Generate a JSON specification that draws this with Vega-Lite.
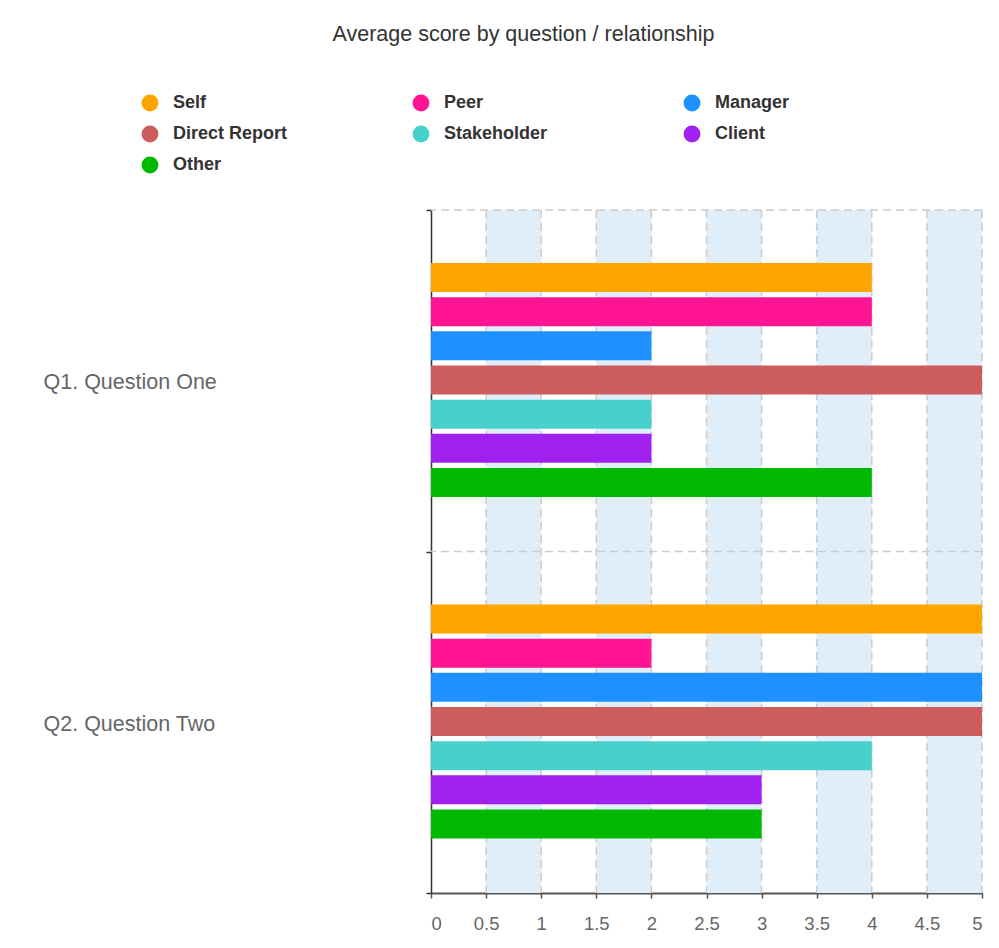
{
  "$schema": "https://vega.github.io/schema/vega-lite/v6.json",
  "width": 551,
  "height": 683,
  "autosize": {"type": "none"},
  "padding": {"left": 431, "top": 210, "right": 17, "bottom": 55},
  "background": "#ffffff",
  "config": {
    "font": "Liberation Sans",
    "view": {"stroke": null}
  },
  "title": {
    "text": "Average score by question / relationship",
    "font": "Liberation Sans",
    "fontSize": 21.5,
    "fontWeight": "normal",
    "color": "#333333",
    "anchor": "middle",
    "frame": "group",
    "dx": -183,
    "offset": 49
  },
  "datasets": {
    "scores": [
      {"question": "Q1. Question One", "relationship": "Self", "score": 4},
      {"question": "Q1. Question One", "relationship": "Peer", "score": 4},
      {"question": "Q1. Question One", "relationship": "Manager", "score": 2},
      {"question": "Q1. Question One", "relationship": "Direct Report", "score": 5},
      {"question": "Q1. Question One", "relationship": "Stakeholder", "score": 2},
      {"question": "Q1. Question One", "relationship": "Client", "score": 2},
      {"question": "Q1. Question One", "relationship": "Other", "score": 4},
      {"question": "Q2. Question Two", "relationship": "Self", "score": 5},
      {"question": "Q2. Question Two", "relationship": "Peer", "score": 2},
      {"question": "Q2. Question Two", "relationship": "Manager", "score": 5},
      {"question": "Q2. Question Two", "relationship": "Direct Report", "score": 5},
      {"question": "Q2. Question Two", "relationship": "Stakeholder", "score": 4},
      {"question": "Q2. Question Two", "relationship": "Client", "score": 3},
      {"question": "Q2. Question Two", "relationship": "Other", "score": 3}
    ],
    "stripes": [
      {"from": 0.5, "to": 1},
      {"from": 1.5, "to": 2},
      {"from": 2.5, "to": 3},
      {"from": 3.5, "to": 4},
      {"from": 4.5, "to": 5}
    ],
    "xgrid": [
      {"value": 0.5}, {"value": 1}, {"value": 1.5}, {"value": 2}, {"value": 2.5},
      {"value": 3}, {"value": 3.5}, {"value": 4}, {"value": 4.5}, {"value": 5}
    ],
    "ygrid": [
      {"question": "Q1. Question One"},
      {"question": "Q2. Question Two"}
    ]
  },
  "layer": [
    {
      "data": {"name": "stripes"},
      "mark": {"type": "rect", "color": "#dfeef8"},
      "encoding": {
        "x": {"field": "from", "type": "quantitative"},
        "x2": {"field": "to"}
      }
    },
    {
      "data": {"name": "xgrid"},
      "mark": {"type": "rule", "color": "#cccccc", "strokeWidth": 1.5, "strokeDash": [8, 5]},
      "encoding": {
        "x": {"field": "value", "type": "quantitative"}
      }
    },
    {
      "data": {"name": "ygrid"},
      "mark": {"type": "rule", "color": "#cccccc", "strokeWidth": 1.5, "strokeDash": [8, 5]},
      "encoding": {
        "y": {"field": "question", "type": "nominal", "bandPosition": 0}
      }
    },
    {
      "data": {"name": "scores"},
      "mark": {"type": "bar"},
      "encoding": {
        "y": {
          "field": "question",
          "type": "nominal",
          "sort": null,
          "scale": {"paddingInner": 0, "paddingOuter": 0},
          "axis": {
            "title": null,
            "grid": false,
            "domainColor": "#333333",
            "domainWidth": 1.5,
            "tickColor": "#333333",
            "tickWidth": 1.5,
            "tickSize": 5,
            "tickBand": "extent",
            "labelAlign": "left",
            "labelPadding": 383,
            "labelOffset": 2,
            "labelFontSize": 21.5,
            "labelColor": "#666666",
            "labelFont": "Liberation Sans",
            "labelLimit": 400
          }
        },
        "yOffset": {
          "field": "relationship",
          "type": "nominal",
          "sort": ["Self", "Peer", "Manager", "Direct Report", "Stakeholder", "Client", "Other"],
          "scale": {"range": [53, 287], "paddingInner": 0.15, "paddingOuter": 0}
        },
        "x": {
          "field": "score",
          "type": "quantitative",
          "scale": {"domain": [0, 5], "nice": false, "zero": true},
          "axis": {
            "title": null,
            "grid": false,
            "values": [0, 0.5, 1, 1.5, 2, 2.5, 3, 3.5, 4, 4.5, 5],
            "format": "~g",
            "domainColor": "#555555",
            "domainWidth": 2,
            "tickColor": "#555555",
            "tickWidth": 1.5,
            "tickSize": 5,
            "labelPadding": 16,
            "labelFontSize": 18.5,
            "labelColor": "#666666",
            "labelFont": "Liberation Sans",
            "labelOverlap": false
          }
        },
        "color": {
          "field": "relationship",
          "type": "nominal",
          "scale": {
            "domain": ["Self", "Peer", "Manager", "Direct Report", "Stakeholder", "Client", "Other"],
            "range": ["#ffa500", "#ff1493", "#1e90ff", "#cd5c5c", "#48d1cc", "#a020f0", "#00b800"]
          },
          "legend": {
            "title": null,
            "orient": "none",
            "direction": "horizontal",
            "legendX": -290,
            "legendY": -116,
            "columns": 3,
            "gridAlign": "all",
            "columnPadding": 124,
            "rowPadding": 13,
            "symbolType": "circle",
            "symbolSize": 284,
            "symbolStrokeWidth": 0,
            "symbolOpacity": 1,
            "labelOffset": 14,
            "labelFont": "Liberation Sans",
            "labelFontWeight": "bold",
            "labelFontSize": 18,
            "labelColor": "#333333",
            "labelLimit": 300
          }
        }
      }
    }
  ]
}
